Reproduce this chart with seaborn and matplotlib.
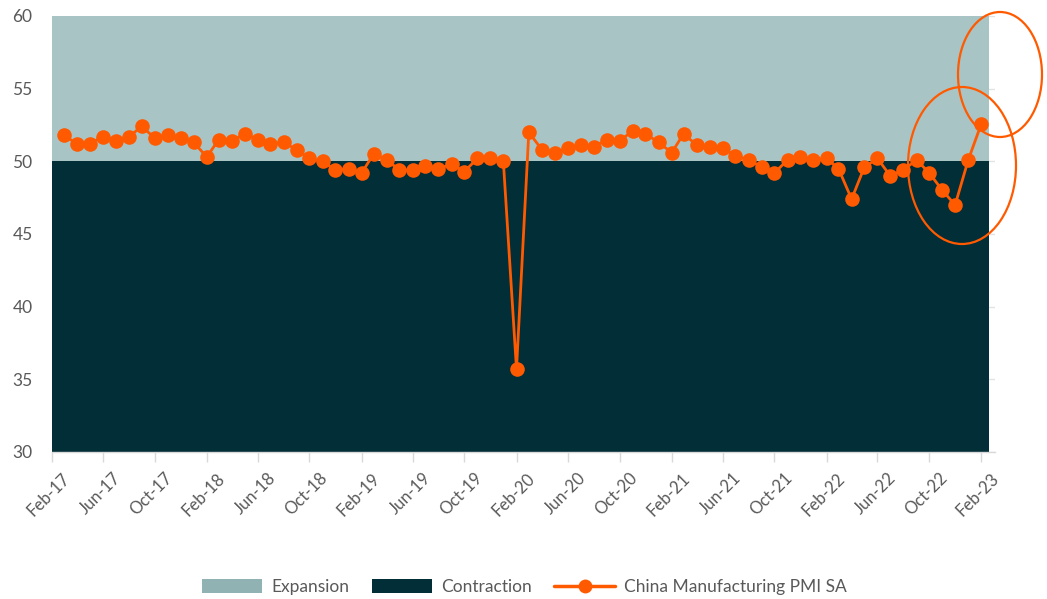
import numpy as np
import pandas as pd
import matplotlib
matplotlib.use("Agg")
import matplotlib.pyplot as plt
import matplotlib.transforms as mtransforms
from matplotlib.patches import Patch, Ellipse
from matplotlib.lines import Line2D
import seaborn as sns

# ---- data ----
months = pd.date_range("2017-03-01", "2023-02-01", freq="MS")
pmi = [51.8, 51.2, 51.2, 51.7, 51.4, 51.7, 52.4, 51.6, 51.8, 51.6,
       51.3, 50.3, 51.5, 51.4, 51.9, 51.5, 51.2, 51.3, 50.8, 50.2, 50.0, 49.4,
       49.5, 49.2, 50.5, 50.1, 49.4, 49.4, 49.7, 49.5, 49.8, 49.3, 50.2, 50.2,
       50.0, 35.7, 52.0, 50.8, 50.6, 50.9, 51.1, 51.0, 51.5, 51.4, 52.1, 51.9,
       51.3, 50.6, 51.9, 51.1, 51.0, 50.9, 50.4, 50.1, 49.6, 49.2, 50.1, 50.3,
       50.1, 50.2, 49.5, 47.4, 49.6, 50.2, 49.0, 49.4, 50.1, 49.2, 48.0, 47.0,
       50.1, 52.6]
tick_dates = pd.date_range("2017-02-01", "2023-02-01", freq="4MS")
tick_labels = [d.strftime("%b-%y") for d in tick_dates]
y_ticks = [30, 35, 40, 45, 50, 55, 60]
threshold = 50
series_name = "China Manufacturing PMI SA"

df = pd.DataFrame({"date": months, "pmi": pmi})

# ---- style ----
sns.set_theme(style="white")
plt.rcParams["font.family"] = ["Lato", "DejaVu Sans"]

EXP = "#a9c4c5"
EXP_LEG = "#90b2b2"
CON = "#022e38"
ORANGE = "#ff5a00"
GRAY = "#595959"

W, H = 1047, 599
fig = plt.figure(figsize=(W / 100, H / 100), dpi=100)
ax = fig.add_axes([52 / W, 1 - 452 / H, 943 / W, 436 / H])

x0 = pd.Timestamp("2017-02-01")
x1 = pd.Timestamp("2023-03-05")
fill_end = pd.Timestamp("2023-02-19")
ax.set_xlim(x0, x1)
ax.set_ylim(30, 60)

fx = [x0, fill_end]
ax.fill_between(fx, [threshold] * 2, [60] * 2, color=EXP, lw=0, zorder=1)
ax.fill_between(fx, [30] * 2, [threshold] * 2, color=CON, lw=0, zorder=1)

for yv in y_ticks:
    ax.axhline(yv, color="#e3e3e3", lw=1, zorder=0.5)

sns.lineplot(data=df, x="date", y="pmi", ax=ax, color=ORANGE, lw=2.0,
             marker="o", markersize=10.5, markeredgewidth=0, zorder=3,
             legend=False)

ax.set_xlabel("")
ax.set_ylabel("")
ax.set_yticks(y_ticks)
ax.set_yticklabels([str(v) for v in y_ticks], fontsize=12.5, color=GRAY)
ax.tick_params(axis="y", length=0, pad=14)
ax.set_xticks(tick_dates)
ax.set_xticklabels(tick_labels, rotation=45, ha="right",
                   rotation_mode="anchor", fontsize=12, color=GRAY)
ax.tick_params(axis="x", length=7, color="#d9d9d9", width=1, pad=6,
               bottom=True)
offset = mtransforms.ScaledTranslation(7 / 72, 0, fig.dpi_scale_trans)
for lab in ax.get_xticklabels():
    lab.set_transform(lab.get_transform() + offset)
for s in ["top", "right", "left"]:
    ax.spines[s].set_visible(False)
ax.spines["bottom"].set_color("#d9d9d9")
ax.spines["bottom"].set_linewidth(1)

# ---- annotation ellipses (figure pixel coords) ----
def fig_ellipse(cx, cy, w, h):
    e = Ellipse((cx / W, 1 - cy / H), w / W, h / H, transform=fig.transFigure,
                fill=False, edgecolor=ORANGE, lw=1.6, zorder=5)
    fig.patches.append(e)

fig_ellipse(962, 165.5, 108, 157)
fig_ellipse(1000, 74.5, 84, 125)

# ---- legend ----
handles = [
    Patch(facecolor=EXP_LEG, edgecolor="none", label="Expansion"),
    Patch(facecolor=CON, edgecolor="none", label="Contraction"),
    Line2D([0], [0], color=ORANGE, lw=2.5, marker="o", markersize=10,
           markeredgewidth=0, label=series_name),
]
leg = fig.legend(handles=handles, loc="center", bbox_to_anchor=(524 / W, 1 - 587 / H),
                 ncol=3, frameon=False, fontsize=12.5, handlelength=3.5,
                 handleheight=0.8, handletextpad=0.5, columnspacing=1.3)
for t in leg.get_texts():
    t.set_color(GRAY)

fig.savefig("out.png", dpi=100)
